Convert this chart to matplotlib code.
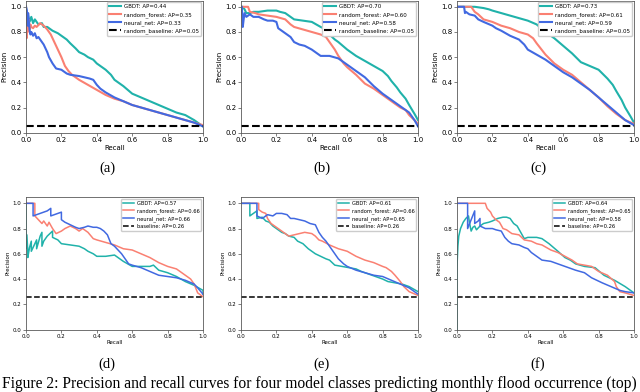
import matplotlib
matplotlib.use('Agg')
from matplotlib import pyplot as plt

# 数据：每条曲线的 recall / precision 点
models = ['GBDT', 'random_forest', 'neural_net']
colors = ['lightseagreen', 'salmon', 'royalblue']
captions = ['(a)', '(b)', '(c)', '(d)', '(e)', '(f)']

# (a)
a_gbdt_r = [0, 0.005, 0.01, 0.02, 0.03, 0.04, 0.05, 0.07, 0.09, 0.1, 0.12, 0.15, 0.18, 0.2, 0.23, 0.25, 0.28, 0.3,
            0.33, 0.35, 0.38, 0.4, 0.43, 0.45, 0.48, 0.5, 0.55, 0.6, 0.65, 0.7, 0.75, 0.8, 0.85, 0.9, 0.95, 1.0]
a_gbdt_p = [1.0, 0.9, 0.94, 0.88, 0.92, 0.87, 0.9, 0.86, 0.87, 0.84, 0.84, 0.81, 0.79, 0.77, 0.74, 0.71, 0.67, 0.64,
            0.62, 0.6, 0.58, 0.55, 0.52, 0.5, 0.46, 0.42, 0.37, 0.31, 0.28, 0.25, 0.22, 0.19, 0.16, 0.14, 0.1, 0.05]
a_rf_r = [0, 0.003, 0.006, 0.01, 0.015, 0.02, 0.025, 0.03, 0.04, 0.05, 0.06, 0.08, 0.1, 0.12, 0.14, 0.16, 0.18, 0.2,
          0.22, 0.24, 0.26, 0.3, 0.35, 0.4, 0.45, 0.5, 0.55, 0.6, 0.65, 0.7, 0.75, 0.8, 0.85, 0.9, 0.95, 1.0]
a_rf_p = [1.0, 0.75, 0.92, 0.8, 0.9, 0.82, 0.86, 0.84, 0.83, 0.85, 0.84, 0.87, 0.85, 0.82, 0.78, 0.72, 0.66, 0.6,
          0.53, 0.49, 0.46, 0.42, 0.38, 0.34, 0.3, 0.27, 0.25, 0.22, 0.2, 0.18, 0.16, 0.14, 0.12, 0.1, 0.08, 0.06]
a_nn_r = [0, 0.005, 0.01, 0.012, 0.02, 0.025, 0.03, 0.04, 0.05, 0.06, 0.07, 0.08, 0.1, 0.12, 0.13, 0.15, 0.17, 0.2,
          0.23, 0.25, 0.3, 0.33, 0.36, 0.38, 0.4, 0.42, 0.45, 0.5, 0.55, 0.6, 0.65, 0.7, 0.75, 0.8, 0.85, 0.9, 0.95, 1.0]
a_nn_p = [1.0, 0.97, 0.85, 0.95, 0.82, 0.78, 0.8, 0.77, 0.79, 0.75, 0.76, 0.74, 0.7, 0.64, 0.6, 0.55, 0.51, 0.5,
          0.47, 0.46, 0.45, 0.44, 0.43, 0.42, 0.38, 0.35, 0.32, 0.28, 0.25, 0.22, 0.2, 0.18, 0.16, 0.14, 0.12, 0.1, 0.08, 0.05]
a_ap = [0.44, 0.35, 0.33, 0.05]

# (b)
b_gbdt_r = [0, 0.01, 0.02, 0.03, 0.05, 0.07, 0.1, 0.15, 0.2, 0.22, 0.25, 0.28, 0.3, 0.35, 0.4, 0.45, 0.48, 0.5, 0.53,
            0.55, 0.6, 0.65, 0.7, 0.75, 0.8, 0.83, 0.85, 0.88, 0.9, 0.93, 0.95, 0.98, 1.0]
b_gbdt_p = [1.0, 1.0, 0.98, 0.95, 0.95, 0.96, 0.96, 0.97, 0.97, 0.96, 0.95, 0.92, 0.9, 0.89, 0.88, 0.84, 0.82, 0.78, 0.74,
            0.72, 0.66, 0.61, 0.57, 0.53, 0.49, 0.45, 0.41, 0.36, 0.32, 0.27, 0.22, 0.15, 0.1]
b_rf_r = [0, 0.02, 0.04, 0.05, 0.08, 0.1, 0.15, 0.2, 0.25, 0.28, 0.3, 0.35, 0.4, 0.45, 0.48, 0.5, 0.53, 0.55, 0.58,
          0.6, 0.65, 0.7, 0.75, 0.8, 0.85, 0.88, 0.9, 0.93, 0.95, 0.98, 1.0]
b_rf_p = [1.0, 1.0, 1.0, 0.96, 0.95, 0.94, 0.93, 0.92, 0.9, 0.86, 0.84, 0.82, 0.8, 0.78, 0.76, 0.72, 0.66, 0.61, 0.55,
          0.52, 0.46, 0.39, 0.35, 0.3, 0.25, 0.22, 0.2, 0.18, 0.14, 0.1, 0.07]
b_nn_r = [0, 0.005, 0.01, 0.015, 0.02, 0.03, 0.05, 0.07, 0.1, 0.13, 0.15, 0.18, 0.2, 0.21, 0.23, 0.25, 0.28, 0.3,
          0.33, 0.36, 0.4, 0.43, 0.45, 0.5, 0.55, 0.58, 0.6, 0.65, 0.7, 0.75, 0.8, 0.85, 0.9, 0.95, 0.98, 1.0]
b_nn_p = [1.0, 1.0, 0.84, 0.9, 0.95, 0.92, 0.94, 0.92, 0.92, 0.9, 0.89, 0.89, 0.88, 0.83, 0.81, 0.79, 0.76, 0.72,
          0.7, 0.69, 0.66, 0.63, 0.61, 0.61, 0.59, 0.56, 0.54, 0.49, 0.44, 0.37, 0.31, 0.26, 0.21, 0.16, 0.1, 0.05]
b_ap = [0.70, 0.60, 0.58, 0.05]

# (c)
c_gbdt_r = [0, 0.05, 0.1, 0.15, 0.18, 0.2, 0.25, 0.3, 0.35, 0.4, 0.45, 0.5, 0.55, 0.6, 0.65, 0.7, 0.75, 0.8, 0.85,
            0.88, 0.9, 0.93, 0.95, 0.98, 1.0]
c_gbdt_p = [1.0, 1.0, 1.0, 0.99, 0.98, 0.97, 0.95, 0.93, 0.91, 0.89, 0.86, 0.8, 0.75, 0.69, 0.63, 0.56, 0.53, 0.5, 0.43,
            0.38, 0.33, 0.26, 0.2, 0.13, 0.08]
c_rf_r = [0, 0.05, 0.08, 0.1, 0.12, 0.15, 0.2, 0.25, 0.3, 0.35, 0.4, 0.43, 0.45, 0.5, 0.55, 0.6, 0.65, 0.7, 0.75, 0.8,
          0.85, 0.9, 0.95, 1.0]
c_rf_p = [1.0, 1.0, 1.0, 0.96, 0.94, 0.9, 0.88, 0.85, 0.83, 0.8, 0.78, 0.75, 0.71, 0.62, 0.55, 0.5, 0.46, 0.4, 0.34, 0.28,
          0.21, 0.15, 0.1, 0.07]
c_nn_r = [0, 0.04, 0.045, 0.05, 0.07, 0.1, 0.12, 0.15, 0.2, 0.22, 0.25, 0.3, 0.35, 0.38, 0.4, 0.45, 0.5, 0.55, 0.6,
          0.65, 0.7, 0.75, 0.8, 0.85, 0.9, 0.95, 1.0]
c_nn_p = [1.0, 1.0, 0.95, 0.96, 0.94, 0.93, 0.9, 0.88, 0.85, 0.83, 0.81, 0.77, 0.74, 0.7, 0.66, 0.62, 0.58, 0.53, 0.48,
          0.44, 0.39, 0.34, 0.28, 0.22, 0.16, 0.1, 0.06]
c_ap = [0.73, 0.61, 0.59, 0.05]

# (d)
d_gbdt_r = [0, 0, 0.005, 0.01, 0.01, 0.02, 0.03, 0.03, 0.05, 0.06, 0.06, 0.08, 0.09, 0.09, 0.1, 0.12, 0.15, 0.15, 0.18,
            0.2, 0.25, 0.3, 0.33, 0.35, 0.38, 0.4, 0.45, 0.5, 0.55, 0.6, 0.65, 0.7, 0.72, 0.75, 0.8, 0.85, 0.9, 0.95,
            1.0, 1.0]
d_gbdt_p = [1.0, 0.64, 0.75, 0.62, 0.57, 0.65, 0.7, 0.62, 0.68, 0.71, 0.64, 0.74, 0.77, 0.66, 0.7, 0.74, 0.78, 0.73, 0.71,
            0.68, 0.67, 0.66, 0.64, 0.62, 0.6, 0.58, 0.58, 0.59, 0.54, 0.5, 0.5, 0.5, 0.51, 0.47, 0.45, 0.42, 0.38, 0.35,
            0.31, 0.28]
d_rf_r = [0, 0.05, 0.05, 0.07, 0.09, 0.1, 0.12, 0.13, 0.15, 0.17, 0.2, 0.22, 0.25, 0.28, 0.3, 0.32, 0.35, 0.38, 0.4,
          0.45, 0.5, 0.55, 0.6, 0.65, 0.7, 0.75, 0.8, 0.85, 0.9, 0.93, 0.95, 0.97, 1.0]
d_rf_p = [1.0, 1.0, 0.9, 0.87, 0.84, 0.86, 0.82, 0.85, 0.8, 0.76, 0.78, 0.8, 0.82, 0.8, 0.78, 0.8, 0.77, 0.72, 0.71,
          0.69, 0.67, 0.64, 0.63, 0.6, 0.57, 0.53, 0.5, 0.48, 0.43, 0.4, 0.36, 0.29, 0.26]
d_nn_r = [0, 0.04, 0.04, 0.06, 0.08, 0.1, 0.12, 0.14, 0.14, 0.16, 0.18, 0.2, 0.2, 0.22, 0.25, 0.28, 0.3, 0.33, 0.35,
          0.38, 0.4, 0.42, 0.44, 0.46, 0.48, 0.5, 0.52, 0.54, 0.56, 0.58, 0.6, 0.65, 0.7, 0.75, 0.8, 0.85, 0.9, 0.95,
          0.97, 1.0]
d_nn_p = [1.0, 1.0, 0.9, 0.91, 0.92, 0.93, 0.94, 0.96, 0.9, 0.91, 0.92, 0.93, 0.87, 0.85, 0.83, 0.81, 0.8, 0.81, 0.82,
          0.81, 0.81, 0.8, 0.78, 0.75, 0.68, 0.66, 0.63, 0.6, 0.56, 0.52, 0.51, 0.49, 0.46, 0.43, 0.42, 0.41, 0.39, 0.36,
          0.33, 0.28]
d_ap = [0.57, 0.66, 0.66, 0.26]

# (e)
e_gbdt_r = [0, 0.05, 0.05, 0.07, 0.09, 0.09, 0.12, 0.14, 0.16, 0.18, 0.2, 0.23, 0.25, 0.27, 0.3, 0.32, 0.35, 0.38, 0.4,
            0.42, 0.45, 0.48, 0.5, 0.53, 0.57, 0.61, 0.65, 0.68, 0.72, 0.76, 0.8, 0.83, 0.87, 0.91, 0.95, 1.0]
e_gbdt_p = [1.0, 1.0, 0.9, 0.92, 0.94, 0.88, 0.89, 0.86, 0.85, 0.82, 0.8, 0.77, 0.76, 0.74, 0.73, 0.7, 0.68, 0.64, 0.62,
            0.6, 0.58, 0.56, 0.55, 0.51, 0.5, 0.49, 0.48, 0.46, 0.44, 0.42, 0.4, 0.38, 0.37, 0.36, 0.34, 0.3]
e_rf_r = [0, 0.1, 0.1, 0.12, 0.14, 0.15, 0.17, 0.19, 0.21, 0.23, 0.25, 0.27, 0.3, 0.33, 0.36, 0.4, 0.42, 0.44, 0.46,
          0.5, 0.55, 0.6, 0.65, 0.7, 0.75, 0.8, 0.82, 0.85, 0.87, 0.9, 0.92, 0.95, 1.0]
e_rf_p = [1.0, 1.0, 0.95, 0.93, 0.92, 0.88, 0.84, 0.82, 0.8, 0.78, 0.76, 0.74, 0.75, 0.76, 0.77, 0.76, 0.74, 0.71, 0.7,
          0.67, 0.64, 0.62, 0.58, 0.55, 0.53, 0.5, 0.49, 0.46, 0.43, 0.38, 0.34, 0.3, 0.27]
e_nn_r = [0, 0.09, 0.09, 0.12, 0.15, 0.18, 0.2, 0.23, 0.26, 0.28, 0.3, 0.33, 0.36, 0.39, 0.42, 0.44, 0.46, 0.48, 0.5,
          0.52, 0.55, 0.58, 0.6, 0.65, 0.7, 0.75, 0.8, 0.85, 0.9, 0.95, 1.0]
e_nn_p = [1.0, 1.0, 0.9, 0.88, 0.91, 0.9, 0.92, 0.92, 0.91, 0.88, 0.88, 0.87, 0.86, 0.84, 0.83, 0.77, 0.73, 0.7, 0.66,
          0.62, 0.56, 0.52, 0.5, 0.47, 0.45, 0.43, 0.42, 0.39, 0.36, 0.33, 0.28]
e_ap = [0.61, 0.66, 0.65, 0.26]

# (f)
f_gbdt_r = [0, 0, 0.005, 0.01, 0.02, 0.035, 0.05, 0.065, 0.07, 0.08, 0.09, 0.1, 0.11, 0.13, 0.15, 0.18, 0.2, 0.23,
            0.26, 0.28, 0.3, 0.32, 0.34, 0.36, 0.38, 0.4, 0.42, 0.45, 0.48, 0.52, 0.57, 0.61, 0.64, 0.67, 0.72, 0.78,
            0.83, 0.89, 0.95, 1.0]
f_gbdt_p = [0.0, 0.5, 0.66, 0.74, 0.8, 0.85, 0.88, 0.9, 0.85, 0.78, 0.81, 0.82, 0.79, 0.82, 0.84, 0.85, 0.86, 0.88,
            0.89, 0.89, 0.88, 0.84, 0.82, 0.77, 0.72, 0.73, 0.73, 0.73, 0.72, 0.68, 0.62, 0.57, 0.55, 0.52, 0.5, 0.49,
            0.43, 0.39, 0.34, 0.29]
f_rf_r = [0, 0.16, 0.17, 0.19, 0.2, 0.22, 0.24, 0.26, 0.28, 0.31, 0.35, 0.38, 0.42, 0.45, 0.48, 0.53, 0.57, 0.61, 0.65,
          0.68, 0.72, 0.76, 0.8, 0.85, 0.89, 0.9, 0.92, 0.95, 1.0]
f_rf_p = [1.0, 1.0, 0.96, 0.93, 0.9, 0.87, 0.85, 0.8, 0.79, 0.76, 0.75, 0.71, 0.7, 0.68, 0.67, 0.63, 0.61, 0.58, 0.55,
          0.52, 0.51, 0.5, 0.46, 0.43, 0.38, 0.34, 0.3, 0.29, 0.27]
f_nn_r = [0, 0.06, 0.06, 0.08, 0.1, 0.1, 0.12, 0.13, 0.13, 0.16, 0.2, 0.22, 0.25, 0.27, 0.29, 0.31, 0.35, 0.38, 0.4,
          0.42, 0.44, 0.48, 0.53, 0.59, 0.63, 0.67, 0.72, 0.76, 0.82, 0.87, 0.92, 0.95, 1.0]
f_nn_p = [1.0, 1.0, 0.8, 0.87, 0.94, 0.84, 0.86, 0.88, 0.82, 0.8, 0.8, 0.79, 0.78, 0.73, 0.7, 0.68, 0.67, 0.65, 0.64,
          0.61, 0.59, 0.55, 0.54, 0.51, 0.49, 0.47, 0.45, 0.41, 0.37, 0.34, 0.31, 0.3, 0.29]
f_ap = [0.64, 0.65, 0.58, 0.26]

caption_text = ('Figure 2: Precision and recall curves for four model classes predicting '
                'monthly flood occurrence (top)')

panels = [
    ([(a_gbdt_r, a_gbdt_p), (a_rf_r, a_rf_p), (a_nn_r, a_nn_p)], a_ap, 'random_baseline'),
    ([(b_gbdt_r, b_gbdt_p), (b_rf_r, b_rf_p), (b_nn_r, b_nn_p)], b_ap, 'random_baseline'),
    ([(c_gbdt_r, c_gbdt_p), (c_rf_r, c_rf_p), (c_nn_r, c_nn_p)], c_ap, 'random_baseline'),
    ([(d_gbdt_r, d_gbdt_p), (d_rf_r, d_rf_p), (d_nn_r, d_nn_p)], d_ap, 'baseline'),
    ([(e_gbdt_r, e_gbdt_p), (e_rf_r, e_rf_p), (e_nn_r, e_nn_p)], e_ap, 'baseline'),
    ([(f_gbdt_r, f_gbdt_p), (f_rf_r, f_rf_p), (f_nn_r, f_nn_p)], f_ap, 'baseline'),
]

W, H = 640, 392
fig = plt.figure(figsize=(6.4, 3.92), dpi=100)


def px_rect(l, t, r, b):
    return [l / W, 1 - b / H, (r - l) / W, (b - t) / H]


lefts = [(26, 203), (241, 418), (457, 634)]
rows = [(0.5, 132.7), (197, 329.5)]
cap_x = [107, 322, 538]
cap_y = [168, 364]

for i, (curves, aps, base_name) in enumerate(panels):
    row, col = divmod(i, 3)
    l, r = lefts[col]
    t, b = rows[row]
    ax = fig.add_axes(px_rect(l, t, r, b))
    top = row == 0
    lw = 1.5 if top else 1.1
    fs = 5 if top else 4
    for (rec, prec), name, c, ap in zip(curves, models, colors, aps):
        ax.plot(rec, prec, color=c, lw=lw, label='%s: AP=%.2f' % (name, ap))
    ax.axhline(aps[3], color='k', ls='--', lw=lw, label='%s: AP=%.2f' % (base_name, aps[3]))
    ax.set_xlim(0, 1)
    ax.set_ylim(0, 1.05)
    ax.set_xticks([0, 0.2, 0.4, 0.6, 0.8, 1.0])
    ax.set_yticks([0, 0.2, 0.4, 0.6, 0.8, 1.0])
    ax.tick_params(labelsize=fs, length=2, width=0.5, pad=1.2, color='0.3')
    for s in ax.spines.values():
        s.set_linewidth(0.6)
        s.set_color('0.35')
    ax.set_xlabel('Recall', fontsize=fs, labelpad=1)
    ax.set_ylabel('Precision', fontsize=fs, labelpad=2)
    ax.legend(loc='upper right', fontsize=4 if top else 3.7, handlelength=2.1, labelspacing=0.45,
              borderpad=0.4, handletextpad=0.6, borderaxespad=0.3, framealpha=1, edgecolor='0.8')
    fig.text(cap_x[col] / W, 1 - cap_y[row] / H, captions[i], ha='center', va='center',
             family='Liberation Serif', fontsize=10.5)

# 底部图注（保持在图内）
fig.text(2 / W, 0.5 / H, caption_text, ha='left', va='bottom', family='Liberation Serif', fontsize=11.2)

fig.savefig('out.png', dpi=100)
